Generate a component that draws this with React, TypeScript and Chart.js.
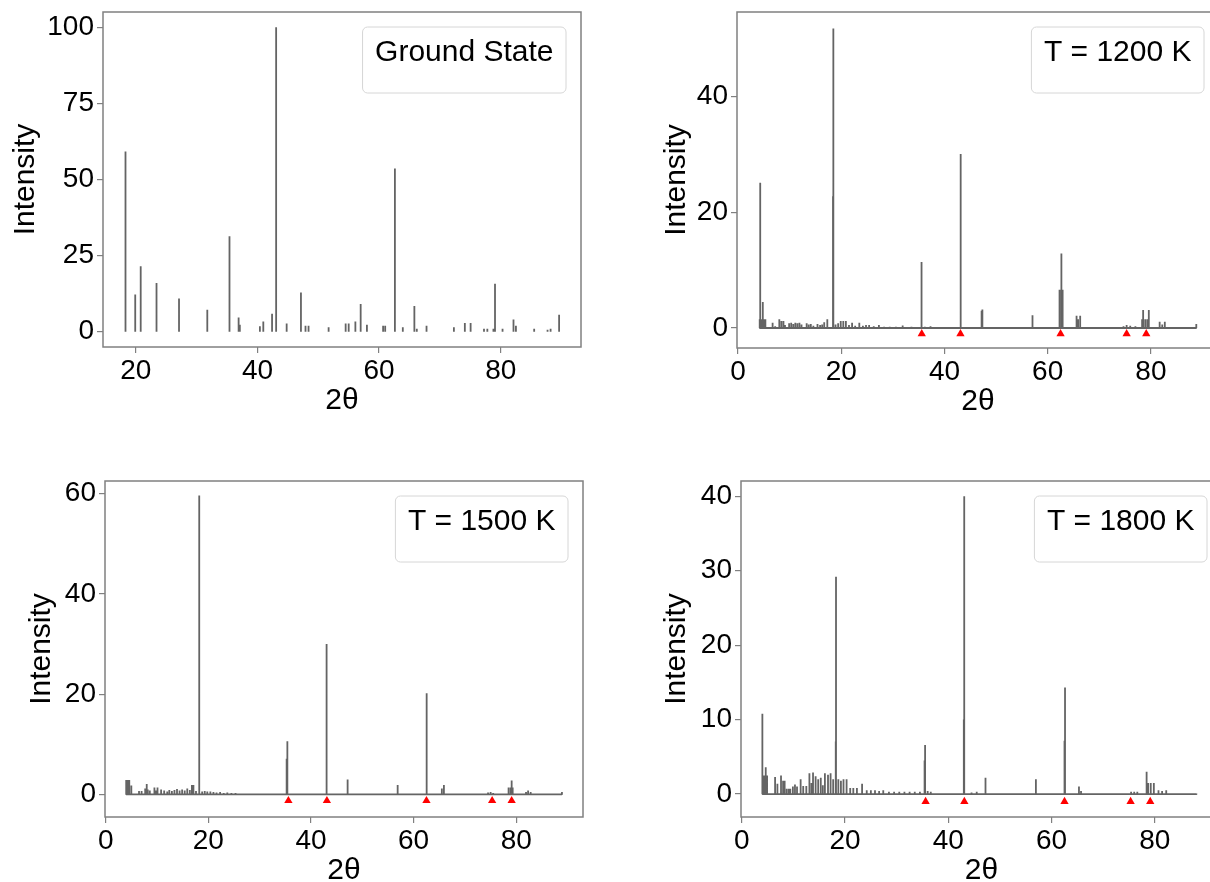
import React, { useEffect, useRef } from "react";
import { Chart, registerables } from "chart.js";

Chart.register(...registerables);

// ---------------- data ----------------
const panelLabels = ["Ground State", "T = 1200 K", "T = 1500 K", "T = 1800 K"];

// Ground state stick pattern (2θ, intensity)
const gsPos = [18.3, 19.9, 20.8, 23.4, 27.1, 31.75, 35.4, 36.9, 37.1, 40.4, 40.96, 42.4, 43.07, 44.8, 47.15, 47.9, 48.4, 51.7, 54.5, 55.0, 56.1, 56.97, 58.0, 60.66, 61.0, 62.6, 63.9, 65.8, 66.2, 67.8, 72.3, 74.1, 75.05, 77.25, 77.8, 78.8, 79.06, 80.3, 82.1, 82.5, 85.5, 87.7, 88.2, 89.6];
const gsInt = [59.2, 12.2, 21.5, 16, 10.9, 7.2, 31.4, 4.7, 2.3, 1.8, 3.4, 5.9, 100, 2.7, 12.9, 2, 2, 1.5, 2.7, 2.7, 3.4, 9.1, 2.3, 2, 2, 53.6, 1.5, 8.5, 1, 2, 1.5, 2.9, 2.9, 1, 1, 1, 15.8, 1, 4, 2, 1, 0.7, 1, 5.6];

// T = 1200 K
const t1200Pos = [4.2, 4.3, 4.5, 4.8, 5.0, 5.3, 6.7, 7.2, 8.0, 8.4, 8.8, 9.1, 9.9, 10.3, 10.7, 11.1, 11.5, 11.9, 12.3, 13.3, 13.7, 14.1, 14.6, 15.4, 15.9, 16.3, 16.7, 17.3, 18.4, 18.47, 18.9, 19.4, 19.9, 20.4, 20.9, 21.5, 22.1, 22.7, 23.5, 24.2, 24.8, 25.4, 26.3, 27.3, 28.3, 29.4, 30.6, 31.9, 33.6, 35.5, 35.6, 36.2, 37.3, 39.0, 43.05, 43.15, 43.2, 44.5, 47.2, 47.35, 51.0, 57.0, 57.1, 62.3, 62.6, 62.7, 62.9, 65.6, 65.9, 66.3, 74.7, 75.3, 76.0, 77.0, 78.3, 78.5, 78.9, 79.3, 79.6, 81.7, 82.2, 82.7, 88.8];
const t1200Int = [1.5, 25.1, 1.5, 4.5, 1.5, 1.5, 0.9, 0.3, 1.5, 1.2, 1.2, 0.5, 0.8, 0.9, 0.7, 0.9, 0.8, 0.9, 0.6, 0.8, 0.6, 0.7, 0.4, 0.7, 0.5, 0.6, 1.0, 1.5, 22.8, 51.8, 0.6, 0.8, 1.2, 1.2, 1.2, 0.5, 0.9, 0.4, 0.9, 0.4, 0.5, 0.5, 0.3, 0.5, 0.2, 0.2, 0.2, 0.45, 0.2, 7.4, 11.4, 0.2, 0.3, 0.1, 10.1, 20.0, 30.1, 0.1, 3.0, 3.2, 0.1, 1.2, 2.2, 6.6, 6.6, 12.9, 6.6, 2.1, 1.5, 2.1, 0.3, 0.5, 0.4, 0.3, 1.5, 3.1, 1.5, 1.5, 3.1, 1.1, 0.6, 1.1, 0.7];

// T = 1500 K
const t1500Pos = [4.0, 4.3, 4.6, 5.0, 6.5, 7.0, 7.7, 8.0, 8.2, 8.6, 9.5, 9.8, 10.1, 10.8, 11.4, 12.0, 12.4, 12.9, 13.4, 13.9, 14.4, 14.9, 15.4, 15.9, 16.4, 16.8, 17.1, 17.6, 18.2, 18.25, 18.8, 19.3, 19.8, 20.4, 21.0, 21.6, 22.3, 23.0, 23.7, 24.5, 25.3, 26.0, 27.0, 28.5, 30.0, 32.0, 35.2, 35.3, 35.4, 37.0, 42.95, 43.05, 43.1, 47.05, 47.2, 56.8, 56.95, 62.45, 62.6, 65.5, 65.9, 74.5, 75.0, 75.5, 78.5, 78.9, 79.1, 79.3, 81.9, 82.3, 82.8, 88.9];
const t1500Int = [2.9, 2.9, 2.9, 1.8, 0.7, 0.7, 1.2, 2.1, 1.0, 0.8, 1.4, 0.8, 1.4, 1.0, 0.8, 0.6, 0.9, 0.7, 0.9, 1.1, 0.8, 1.0, 0.8, 1.2, 0.9, 1.9, 1.9, 0.7, 14.1, 59.6, 0.6, 0.7, 0.6, 0.6, 0.5, 0.4, 0.5, 0.3, 0.4, 0.3, 0.3, 0.2, 0.2, 0.1, 0.1, 0.1, 3.5, 7.1, 10.6, 0.1, 9.8, 20.1, 30.0, 3.0, 2.0, 1.2, 1.9, 6.6, 20.2, 1.2, 1.9, 0.4, 0.5, 0.3, 1.4, 1.4, 2.8, 1.4, 0.5, 0.8, 0.5, 0.5];

// T = 1800 K
const t1800Pos = [3.99, 4.3, 4.64, 4.9, 6.45, 6.9, 7.6, 8.0, 8.3, 8.7, 9.1, 9.4, 9.9, 10.3, 10.7, 11.4, 11.9, 12.5, 13.1, 13.5, 13.8, 14.3, 14.8, 15.3, 15.7, 16.1, 16.7, 17.2, 17.7, 18.2, 18.25, 18.7, 19.2, 19.7, 20.3, 21.0, 21.6, 22.3, 23.3, 24.2, 25.0, 25.8, 26.6, 27.4, 28.5, 29.5, 30.5, 31.5, 32.5, 33.5, 34.5, 35.4, 35.5, 36.0, 36.6, 38.0, 40.0, 41.5, 43.0, 43.05, 43.1, 44.5, 45.5, 47.2, 48.5, 52.0, 55.0, 56.96, 62.5, 62.6, 65.3, 65.7, 75.4, 76.0, 76.6, 78.4, 78.7, 79.2, 79.8, 80.7, 81.4, 82.2, 88.1];
const t1800Int = [10.8, 2.5, 3.6, 2.5, 2.3, 1.4, 2.5, 1.8, 1.8, 0.7, 0.7, 0.7, 1.0, 1.3, 1.0, 2.0, 1.1, 1.1, 2.8, 1.5, 2.9, 2.4, 2.0, 2.2, 1.2, 2.8, 2.6, 2.8, 2.0, 7.05, 29.2, 2.0, 1.8, 2.0, 2.0, 0.8, 0.8, 0.8, 1.4, 0.5, 0.5, 0.5, 0.4, 0.5, 0.3, 0.3, 0.3, 0.3, 0.3, 0.3, 0.3, 4.5, 6.6, 0.4, 0.3, 0.1, 0.1, 0.1, 10.0, 20.0, 40.0, 0.2, 0.3, 2.2, 0.1, 0.1, 0.1, 2.0, 7.15, 14.3, 1.0, 0.4, 0.3, 0.3, 0.3, 3.0, 1.5, 1.5, 1.5, 0.5, 0.4, 0.5, 0.05];

// reference peak markers (red triangles)
const markerPos = [35.6, 43.1, 62.5, 75.3, 79.1];
const markerLevel = [null, -1.0, -1.25, -1.0];

// tick labels
const xTicksGS = [20, 40, 60, 80];
const xTicksT = [0, 20, 40, 60, 80];
const yTicksGS = [0, 25, 50, 75, 100];
const yTicks1200 = [0, 20, 40];
const yTicks1500 = [0, 20, 40, 60];
const yTicks1800 = [0, 10, 20, 30, 40];

// ---------------- layout / style ----------------
const FONT = '"Liberation Sans", Arial, Helvetica, sans-serif';
const FRAME = "#808080";
const STICK = "rgb(100,100,100)";
const PAD_TOP = 22;
const PAD_RIGHT = 20;
const H_X = 72;

type PanelCfg = {
  label: string;
  pos: number[];
  val: number[];
  joined: boolean;
  marker: number | null;
  xRange: [number, number];
  yRange: [number, number];
  xTicks: number[];
  yTicks: number[];
  canvasLeft: number;
  plotLeft: number;
  plotTop: number;
  plotRight: number;
  plotBottom: number;
  yTitleX: number;
};

const panels: PanelCfg[] = [
  { label: panelLabels[0], pos: gsPos, val: gsInt, joined: false, marker: markerLevel[0],
    xRange: [14.6, 93.2], yRange: [-5, 105], xTicks: xTicksGS, yTicks: yTicksGS,
    canvasLeft: 0, plotLeft: 103, plotTop: 12, plotRight: 581, plotBottom: 347, yTitleX: 26 },
  { label: panelLabels[1], pos: t1200Pos, val: t1200Int, joined: true, marker: markerLevel[1],
    xRange: [-0.2, 93.2], yRange: [-3.46, 54.65], xTicks: xTicksT, yTicks: yTicks1200,
    canvasLeft: 620, plotLeft: 737, plotTop: 12, plotRight: 1219, plotBottom: 348, yTitleX: 677 },
  { label: panelLabels[2], pos: t1500Pos, val: t1500Int, joined: true, marker: markerLevel[2],
    xRange: [-0.13, 93.0], yRange: [-4.5, 62.5], xTicks: xTicksT, yTicks: yTicks1500,
    canvasLeft: 0, plotLeft: 105, plotTop: 481, plotRight: 583, plotBottom: 817, yTitleX: 42 },
  { label: panelLabels[3], pos: t1800Pos, val: t1800Int, joined: true, marker: markerLevel[3],
    xRange: [-0.15, 93.0], yRange: [-3.08, 42.05], xTicks: xTicksT, yTicks: yTicks1800,
    canvasLeft: 620, plotLeft: 741, plotTop: 481, plotRight: 1222, plotBottom: 817, yTitleX: 677 },
];

function stickPoints(pos: number[], val: number[], joined: boolean) {
  const idx = pos.map((_, i) => i).sort((a, b) => pos[a] - pos[b]);
  const pts: { x: number; y: number | null }[] = [];
  for (const i of idx) {
    pts.push({ x: pos[i], y: 0 });
    pts.push({ x: pos[i], y: val[i] });
    pts.push({ x: pos[i], y: joined ? 0 : null });
  }
  return pts;
}

function Panel({ cfg }: { cfg: PanelCfg }) {
  const ref = useRef<HTMLCanvasElement | null>(null);
  const width = cfg.plotRight + PAD_RIGHT - cfg.canvasLeft;
  const height = PAD_TOP + (cfg.plotBottom - cfg.plotTop) + H_X;
  const top = cfg.plotTop - PAD_TOP;
  const yAxisWidth = cfg.plotLeft - cfg.canvasLeft;
  const yTitlePad = cfg.yTitleX - cfg.canvasLeft - 18;

  useEffect(() => {
    const canvas = ref.current;
    if (!canvas) return;

    const framePlugin = {
      id: "frameAndLegend",
      afterDraw(chart: any) {
        const { ctx, chartArea: a } = chart;
        ctx.save();
        ctx.strokeStyle = FRAME;
        ctx.lineWidth = 1.5;
        ctx.strokeRect(a.left, a.top, a.right - a.left, a.bottom - a.top);
        // legend box
        ctx.font = `30px ${FONT}`;
        const tw = ctx.measureText(cfg.label).width;
        const bw = tw + 25;
        const bh = 66;
        const bx = a.right - 15 - bw;
        const by = a.top + 15;
        const r = 5;
        ctx.beginPath();
        ctx.moveTo(bx + r, by);
        ctx.lineTo(bx + bw - r, by);
        ctx.arcTo(bx + bw, by, bx + bw, by + r, r);
        ctx.lineTo(bx + bw, by + bh - r);
        ctx.arcTo(bx + bw, by + bh, bx + bw - r, by + bh, r);
        ctx.lineTo(bx + r, by + bh);
        ctx.arcTo(bx, by + bh, bx, by + bh - r, r);
        ctx.lineTo(bx, by + r);
        ctx.arcTo(bx, by, bx + r, by, r);
        ctx.closePath();
        ctx.fillStyle = "rgba(255,255,255,0.8)";
        ctx.fill();
        ctx.strokeStyle = "#d6d6d6";
        ctx.lineWidth = 1;
        ctx.stroke();
        ctx.fillStyle = "#000";
        ctx.textBaseline = "alphabetic";
        ctx.textAlign = "left";
        ctx.fillText(cfg.label, bx + 12.5, by + 34);
        ctx.restore();
      },
    };

    const datasets: any[] = [];
    if (cfg.marker !== null) {
      datasets.push({
        data: markerPos.map((x) => ({ x, y: cfg.marker })),
        showLine: false,
        pointStyle: "triangle",
        pointRadius: 4.8,
        pointBackgroundColor: "#ff0000",
        pointBorderWidth: 0,
        pointBorderColor: "#ff0000",
      });
    }
    datasets.push({
      data: stickPoints(cfg.pos, cfg.val, cfg.joined),
      borderColor: STICK,
      borderWidth: 1.8,
      pointRadius: 0,
      tension: 0,
      spanGaps: false,
      borderJoinStyle: "bevel",
      fill: false,
    });

    const tickFont = { family: FONT, size: 28 };
    const titleFont = { family: FONT, size: 30 };

    const chart = new Chart(canvas, {
      type: "line",
      data: { datasets },
      options: {
        responsive: false,
        animation: false,
        events: [],
        layout: { padding: { top: PAD_TOP, right: PAD_RIGHT, left: 0, bottom: 0 } },
        plugins: { legend: { display: false }, tooltip: { enabled: false } },
        scales: {
          x: {
            type: "linear",
            min: cfg.xRange[0],
            max: cfg.xRange[1],
            afterBuildTicks: (s: any) => {
              s.ticks = cfg.xTicks.map((v) => ({ value: v }));
            },
            afterFit: (s: any) => {
              s.height = H_X;
            },
            grid: { display: true, drawOnChartArea: false, drawTicks: true, tickLength: 6, color: FRAME, lineWidth: 1.2 },
            border: { display: false },
            ticks: { font: tickFont, color: "#000", padding: 1, maxRotation: 0, autoSkip: false, callback: (v: any) => String(v) },
            title: { display: true, text: "2θ", font: titleFont, color: "#000", padding: { top: 0, bottom: 0 } },
          },
          y: {
            type: "linear",
            min: cfg.yRange[0],
            max: cfg.yRange[1],
            afterBuildTicks: (s: any) => {
              s.ticks = cfg.yTicks.map((v) => ({ value: v }));
            },
            afterFit: (s: any) => {
              s.width = yAxisWidth;
            },
            grid: { display: true, drawOnChartArea: false, drawTicks: true, tickLength: 6, color: FRAME, lineWidth: 1.2 },
            border: { display: false },
            ticks: { font: tickFont, color: "#000", padding: 3, autoSkip: false, callback: (v: any) => String(v) },
            title: { display: true, text: "Intensity", font: titleFont, color: "#000", padding: { top: yTitlePad, bottom: 0 } },
          },
        },
      } as any,
      plugins: [framePlugin],
    });
    return () => chart.destroy();
  }, []);

  return (
    <canvas
      ref={ref}
      width={width}
      height={height}
      style={{ position: "absolute", left: cfg.canvasLeft, top, width, height }}
    />
  );
}

export default function App() {
  return (
    <div
      style={{
        position: "fixed",
        left: 0,
        top: 0,
        width: 1210,
        height: 882,
        overflow: "hidden",
        background: "#fff",
      }}
    >
      {panels.map((p, i) => (
        <Panel key={i} cfg={p} />
      ))}
    </div>
  );
}
